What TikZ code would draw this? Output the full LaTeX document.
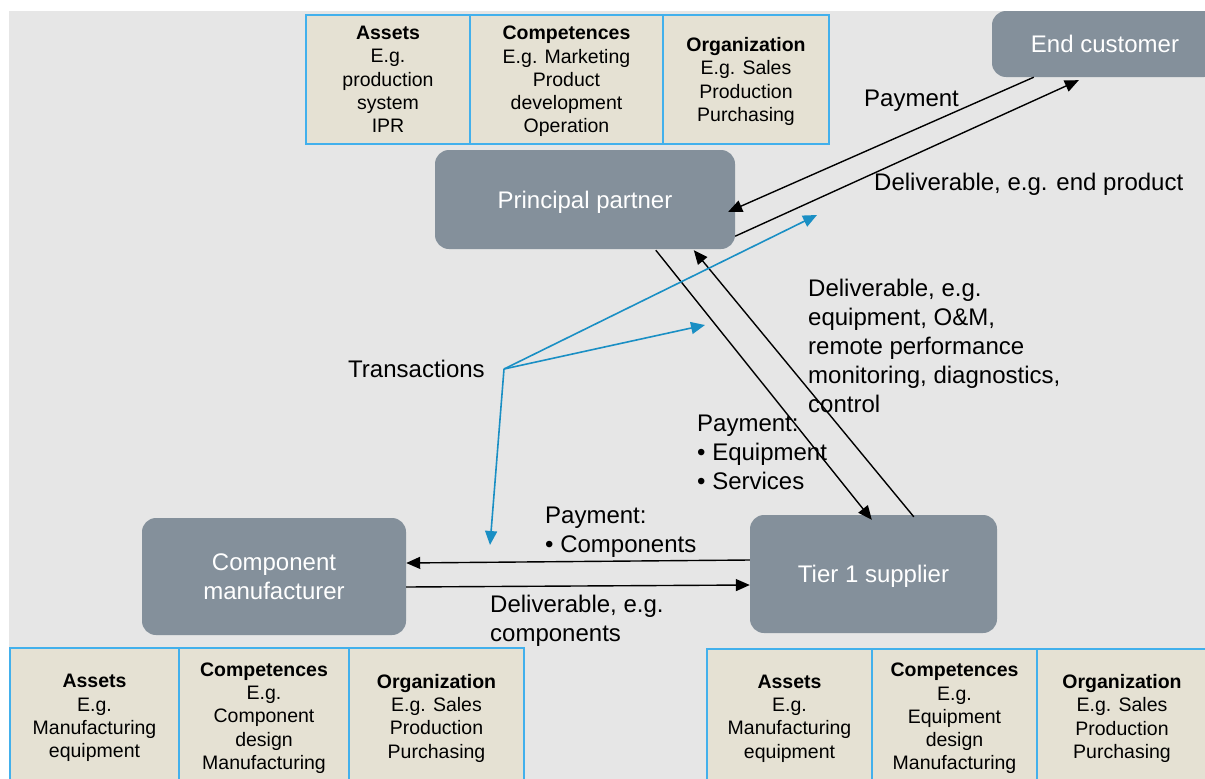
\documentclass[tikz,border=0pt]{standalone}
\usepackage{fontspec}
\setmainfont{Liberation Sans}
\usepackage{tikz}
\usetikzlibrary{%
	calc,%
	arrows.meta%
}
\definecolor{panel-grey}{HTML}{E6E6E6}
\definecolor{actor-grey}{HTML}{84909B}
\definecolor{cell-beige}{HTML}{E5E1D3}
\definecolor{cell-blue}{HTML}{42B0EC}
\definecolor{link-blue}{HTML}{1A8FC4}

\begin{document}
\begin{tikzpicture}[x=1pt,y=-1pt,
		actor/.style={rounded corners=14pt, fill=actor-grey, text=white, align=center,
			text depth=0pt, font=\fontsize{24}{29}\selectfont},
		cell/.style={draw=cell-blue, line width=1.6pt, fill=cell-beige, align=center,
			inner sep=0pt, outer sep=0pt, text depth=0pt, font=\fontsize{19.5}{23.3}\selectfont},
		note/.style={anchor=north west, align=left, inner sep=0pt,
			font=\fontsize{24}{29}\selectfont},
		flow/.style={line width=1.4pt, -{Triangle[length=14pt,width=12pt]}},
		tx/.style={flow, draw=link-blue, line width=1.6pt, -{Triangle[length=14pt,width=12pt,fill=link-blue]}}
	]
	\useasboundingbox (0,0) rectangle (1205,779);
	\fill[panel-grey] (9,11) rectangle (1205,779);

	\node[cell, minimum width=164pt, minimum height=129pt] (topA) at (388,79.5) {\textbf{Assets}\\E.g.\\production\\system\\IPR};
	\node[cell, minimum width=193pt, minimum height=129pt] (topC) at (566.5,79.5) {\textbf{Competences}\\E.g. Marketing\\Product\\development\\Operation};
	\node[cell, minimum width=166pt, minimum height=129pt] (topO) at (746,79.5) {\textbf{Organization}\\E.g. Sales\\Production\\Purchasing};

	\node[cell, minimum width=169pt, minimum height=136pt] (leftA) at (94.5,716) {\textbf{Assets}\\E.g.\\Manufacturing\\equipment};
	\node[cell, minimum width=170pt, minimum height=136pt] (leftC) at (264,716) {\textbf{Competences}\\E.g.\\Component\\design\\Manufacturing};
	\node[cell, minimum width=175pt, minimum height=136pt] (leftO) at (436.5,716) {\textbf{Organization}\\E.g. Sales\\Production\\Purchasing};

	\node[cell, minimum width=165pt, minimum height=135pt] (rightA) at (789.5,716.5) {\textbf{Assets}\\E.g.\\Manufacturing\\equipment};
	\node[cell, minimum width=165pt, minimum height=135pt] (rightC) at (954.5,716.5) {\textbf{Competences}\\E.g.\\Equipment\\design\\Manufacturing};
	\node[cell, minimum width=170pt, minimum height=135pt] (rightO) at (1122,716.5) {\textbf{Organization}\\E.g. Sales\\Production\\Purchasing};

	\node[actor, minimum width=226pt, minimum height=66pt] (ec) at (1105,44) {End customer};
	\node[actor, minimum width=300pt, minimum height=99pt] (pp) at (585,199.5) {Principal partner};
	\node[actor, minimum width=264pt, minimum height=117pt] (cm) at (274,576.5) {Component\\manufacturer};
	\node[actor, minimum width=247pt, minimum height=118pt] (ts) at (873.5,574) {Tier 1 supplier};

	\draw[flow] ($(ec.south west)+(42,0)$) -- ($(pp.north east)+(-7,62)$);
	\draw[flow] ($(pp.south east)+(0,-13)$) -- ($(ec.south west)+(87,3)$);
	\draw[flow] ($(pp.south west)+(221,1)$) -- ($(ts.north west)+(122,5)$);
	\draw[flow] ($(ts.north west)+(164,2)$) -- ($(pp.south west)+(259,1)$);
	\draw[flow] ($(ts.west)+(0,-14)$) -- ($(cm.east)+(0,-13.5)$);
	\draw[flow] ($(cm.east)+(0,10.5)$) -- ($(ts.west)+(0,11)$);

	\node[note] (payEc) at (864,89.5) {Payment};
	\node[note] (delEc) at (874,172.7) {Deliverable, e.g. end product};
	\node[note] (delTs) at (808,278.7) {Deliverable, e.g.\\equipment, O\&M,\\remote performance\\monitoring, diagnostics,\\control};
	\node[note] (payTs) at (697,414.7) {Payment:\\\textbullet{} Equipment\\\textbullet{} Services};
	\node[note] (payCm) at (545,506.7) {Payment:\\\textbullet{} Components};
	\node[note] (delCm) at (490,594.7) {Deliverable, e.g.\\components};
	\node[note] (trans) at (348,359.7) {Transactions};

	\coordinate (hub) at (504,369);
	\coordinate (txEc) at (817,215);
	\coordinate (txTs) at (705,325);
	\coordinate (txCm) at (490,545);
	\draw[tx] (hub) -- (txEc);
	\draw[tx] (hub) -- (txTs);
	\draw[tx] (hub) -- (txCm);
\end{tikzpicture}
\end{document}
